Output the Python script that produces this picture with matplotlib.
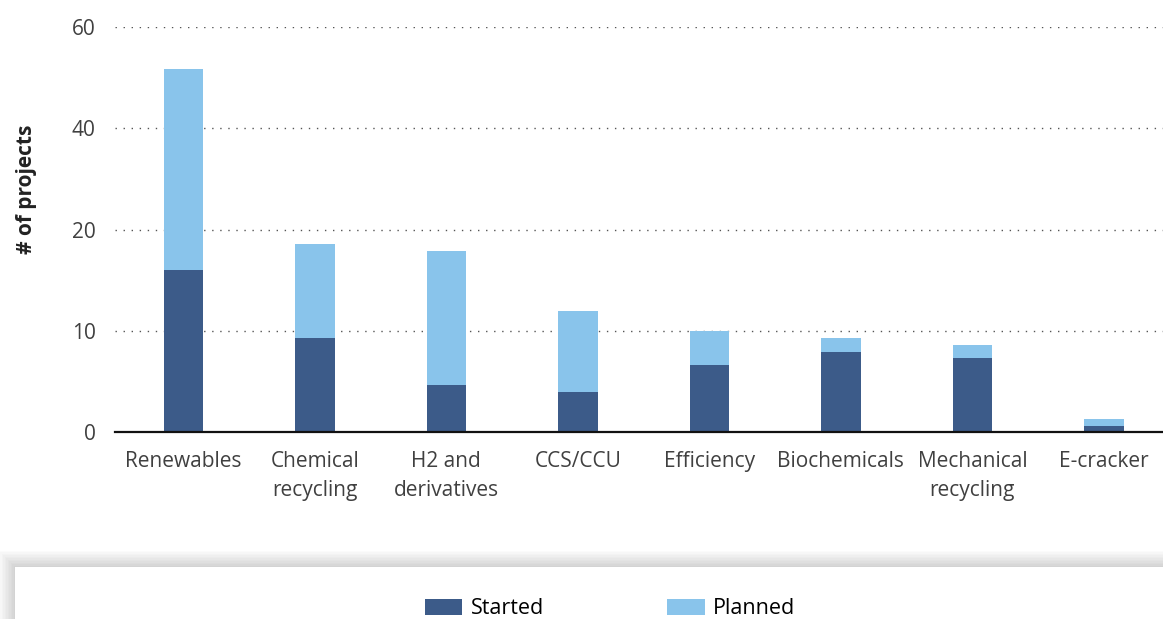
import numpy as np
import matplotlib
matplotlib.use("Agg")
import matplotlib.pyplot as plt
from matplotlib.patches import Rectangle

plt.rcParams['font.family'] = ['Open Sans', 'DejaVu Sans']

categories = ["Renewables", "Chemical\nrecycling", "H2 and\nderivatives", "CCS/CCU",
              "Efficiency", "Biochemicals", "Mechanical\nrecycling", "E-cracker"]
started = [16, 9.3, 4.6, 4.0, 6.6, 7.9, 7.3, 0.6]
total = [51.7, 18.6, 17.9, 12.0, 10.0, 9.3, 8.6, 1.3]
planned = [t - s for t, s in zip(total, started)]

yticks = [0, 10, 20, 40, 60]
ypos = [0, 1, 2, 3, 4]  # tick labels are evenly spaced on the original axis

c_started = "#3c5b89"
c_planned = "#89c4eb"

W, H = 1163, 619
fig = plt.figure(figsize=(W / 100, H / 100), dpi=100)
ax = fig.add_axes([115 / W, 187 / H, 1048 / W, 405 / H])

fwd = lambda v: np.interp(v, yticks, ypos)
inv = lambda v: np.interp(v, ypos, yticks)
ax.set_yscale("function", functions=(fwd, inv))

x = np.arange(len(categories))
ax.bar(x, started, width=0.30, color=c_started, label="Started", zorder=3)
ax.bar(x, planned, bottom=started, width=0.30, color=c_planned, label="Planned", zorder=3)

ax.set_ylim(0, 60)
ax.set_xlim(-0.52, 7.45)
ax.set_yticks(yticks)
ax.set_yticklabels([str(t) for t in yticks])
ax.set_xticks(x)
ax.set_xticklabels(categories, linespacing=1.5)
ax.tick_params(axis="y", length=0, pad=14, labelsize=15, labelcolor="#404040")
ax.tick_params(axis="x", length=0, pad=14, labelsize=15, labelcolor="#404040")

ax.grid(axis="y", color="#555555", linestyle=(0, (1, 4.8)), linewidth=1.0, zorder=0)
for s in ["top", "right", "left"]:
    ax.spines[s].set_visible(False)
ax.spines["bottom"].set_color("#111111")
ax.spines["bottom"].set_linewidth(1.6)
ax.spines["bottom"].set_zorder(4)

ax.set_ylabel("# of projects", fontsize=15, fontweight="bold", color="#222222")
ax.yaxis.set_label_coords(-0.0745, 0.598)

# legend panel with soft shadow
tf = fig.transFigure
for i in range(12):
    d = i * 1.5
    fig.patches.append(Rectangle(((15 - d) / W, 0), (W + 20) / W, (H - 567 + d) / H,
                                 transform=tf, facecolor="#000000", alpha=0.014,
                                 edgecolor="none", zorder=0))
fig.patches.append(Rectangle((15 / W, 0), (W) / W, (H - 567) / H, transform=tf,
                             facecolor="white", edgecolor="none", zorder=1))

fig.legend(loc="center", bbox_to_anchor=(610 / W, 1 - 609 / H), ncol=2, frameon=False,
           fontsize=15.5, handlelength=1.75, handleheight=0.75, handletextpad=0.4,
           columnspacing=5.7, borderpad=0)

fig.savefig("out.png", dpi=100)
